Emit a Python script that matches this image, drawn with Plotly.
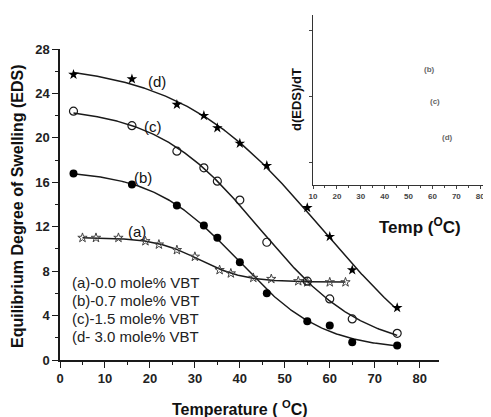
import numpy as np
import plotly.graph_objects as go

# page body has an 8px margin, so figure is drawn from (8, 8)
OFF = 8
W, H = 491 - OFF, 417 - OFF

# ---- data ----
temp_a = [5, 8, 13, 19, 22, 26, 30, 35.5, 38, 43, 47, 53, 55, 60, 63.5]
eds_a = [11.0, 11.0, 11.0, 10.7, 10.4, 9.9, 9.3, 8.1, 7.8, 7.4, 7.3, 7.1, 7.0, 7.0, 7.0]

temp_b = [3, 16, 26, 32, 35, 40, 46, 55, 60, 65, 75]
eds_b = [16.8, 15.8, 13.9, 12.1, 11.0, 8.8, 6.0, 3.5, 3.1, 1.6, 1.3]

temp_c = [3, 16, 26, 32, 35, 40, 46, 55, 60, 65, 75]
eds_c = [22.4, 21.1, 18.8, 17.3, 16.1, 14.4, 10.6, 7.1, 5.5, 3.7, 2.4]

temp_d = [3, 16, 26, 32, 35, 40, 46, 55, 60, 65, 75]
eds_d = [25.7, 25.3, 23.0, 22.0, 20.9, 19.5, 17.5, 13.7, 11.1, 8.1, 4.7]

legend_lines = ["(a)-0.0 mole% VBT", "(b)-0.7 mole% VBT", "(c)-1.5 mole% VBT", "(d- 3.0 mole% VBT"]
inset_labels = ["(b)", "(c)", "(d)"]
inset_label_x = [58.7, 61.2, 66.2]
inset_label_y = [0.68, 0.49, 0.28]

def px(x):
    return (x - OFF) / W

def py(y):
    return 1 - (y - OFF) / H

FONT = "Liberation Sans, Arial, sans-serif"
INK = "#1a1a1a"

def sigmoid_fit(xs, ys, n=300):
    """Boltzmann sigmoid least-squares fit (grid search over centre/width)."""
    x = np.asarray(xs, float)
    y = np.asarray(ys, float)
    best = None
    for x0 in np.linspace(10, 90, 161):
        for dx in np.linspace(3, 40, 75):
            f = 1.0 / (1.0 + np.exp((x - x0) / dx))
            A = np.column_stack([np.ones_like(f), f])
            coef, *_ = np.linalg.lstsq(A, y, rcond=None)
            r = np.sum((A @ coef - y) ** 2)
            if best is None or r < best[0]:
                best = (r, x0, dx, coef)
    _, x0, dx, coef = best
    xx = np.linspace(x[0], x[-1], n)
    yy = coef[0] + coef[1] / (1.0 + np.exp((xx - x0) / dx))
    return xx, yy

fig = go.Figure()

for xs, ys in [(temp_a, eds_a), (temp_b, eds_b), (temp_c, eds_c), (temp_d, eds_d)]:
    fx, fy = sigmoid_fit(xs, ys)
    fig.add_trace(go.Scatter(x=fx, y=fy, mode="lines", line=dict(color=INK, width=1.5),
                             hoverinfo="skip"))

fig.add_trace(go.Scatter(x=temp_a, y=eds_a, mode="markers",
                         marker=dict(symbol="star-open", size=7, color="#444", line=dict(width=1, color="#555"))))
fig.add_trace(go.Scatter(x=temp_b, y=eds_b, mode="markers",
                         marker=dict(symbol="circle", size=8, color="black")))
fig.add_trace(go.Scatter(x=temp_c, y=eds_c, mode="markers",
                         marker=dict(symbol="circle-open", size=8, color=INK, line=dict(width=1.2))))
fig.add_trace(go.Scatter(x=temp_d, y=eds_d, mode="markers",
                         marker=dict(symbol="star", size=8, color="black")))

fig.add_trace(go.Scatter(x=[10], y=[0], xaxis="x2", yaxis="y2", mode="markers",
                         marker=dict(opacity=0), hoverinfo="skip"))

tickfont = dict(family=FONT, size=13, color="#222")

fig.update_layout(
    width=W, height=H,
    margin=dict(l=0, r=0, t=0, b=0),
    paper_bgcolor="white", plot_bgcolor="rgba(0,0,0,0)",
    showlegend=False,
    xaxis=dict(domain=[px(60), px(439)], range=[0, 84.3], tickmode="array",
               tickvals=[0, 10, 20, 30, 40, 50, 60, 70, 80],
               ticktext=["<b>%d</b>" % v for v in [0, 10, 20, 30, 40, 50, 60, 70, 80]],
               ticks="outside", ticklen=6, tickwidth=1.3, tickcolor=INK,
               minor=dict(ticks="outside", ticklen=3, dtick=5, tickcolor=INK, tickwidth=1),
               showline=True, linecolor=INK, linewidth=1.5, showgrid=False, zeroline=False,
               tickfont=tickfont, automargin=False, anchor="y"),
    yaxis=dict(domain=[py(360), py(49)], range=[0, 28], tickmode="array",
               tickvals=[0, 4, 8, 12, 16, 20, 24, 28],
               ticktext=["<b>%d</b>" % v for v in [0, 4, 8, 12, 16, 20, 24, 28]],
               ticks="outside", ticklen=6, tickwidth=1.3, tickcolor=INK,
               minor=dict(ticks="outside", ticklen=3, dtick=2, tickcolor=INK, tickwidth=1),
               showline=True, linecolor=INK, linewidth=1.5, showgrid=False, zeroline=False,
               tickfont=tickfont, automargin=False, anchor="x"),
    xaxis2=dict(domain=[px(313), 1.0], range=[10, 84.5], anchor="y2", tickmode="array",
                tickvals=[10, 20, 30, 40, 50, 60, 70, 80],
                ticktext=["<b>%d</b>" % v for v in [10, 20, 30, 40, 50, 60, 70, 80]],
                ticks="outside", ticklen=3, tickcolor="#444",
                minor=dict(ticks="outside", ticklen=2, dtick=5, tickcolor="#444"),
                showline=True, linecolor="#333", linewidth=1.3, showgrid=False, zeroline=False,
                tickfont=dict(family=FONT, size=8, color="#444"), automargin=False,
                ticklabeloverflow="allow"),
    yaxis2=dict(domain=[py(185), py(15)], range=[0, 1], anchor="x2", tickmode="array",
                tickvals=[0.13, 0.52, 0.91], showticklabels=False,
                ticks="outside", ticklen=3, tickcolor="#444",
                showline=True, linecolor="#333", linewidth=1.3, showgrid=False, zeroline=False,
                automargin=False),
)

annotations = []
def ann(x, y, text, size, angle=0, xanchor="center", color="#111"):
    annotations.append(dict(x=px(x), y=py(y), xref="paper", yref="paper", text=text,
                            textangle=angle, showarrow=False, xanchor=xanchor, yanchor="middle",
                            font=dict(family=FONT, size=size, color=color)))

ann(17, 206, "<b>Equilibrium Degree of Swelling (EDS)</b>", 16, angle=-90)
ann(240, 408, "<b>Temperature ( <sup>O</sup>C)</b>", 16)
ann(296, 100, "<b>d(EDS)/dT</b>", 13, angle=-90)
ann(420, 226, "<b>Temp (<sup>O</sup>C)</b>", 17)
for i, t in enumerate(legend_lines):
    ann(70, 282 + i * 18.3, t, 15, xanchor="left", color="#222")

for lab, xx, yy in [("(d)", 21.6, 25.1), ("(c)", 20.7, 21.0), ("(b)", 18.4, 16.4), ("(a)", 17.1, 11.6)]:
    annotations.append(dict(x=xx, y=yy, xref="x", yref="y", text=lab, showarrow=False,
                            xanchor="center", yanchor="middle",
                            font=dict(family=FONT, size=15, color="#111")))
for t, xx, yy in zip(inset_labels, inset_label_x, inset_label_y):
    annotations.append(dict(x=xx, y=yy, xref="x2", yref="y2", text="<b>" + t + "</b>", showarrow=False,
                            xanchor="center", yanchor="middle",
                            font=dict(family=FONT, size=8, color="#666")))

fig.update_layout(annotations=annotations)
fig.write_html("out.html")
